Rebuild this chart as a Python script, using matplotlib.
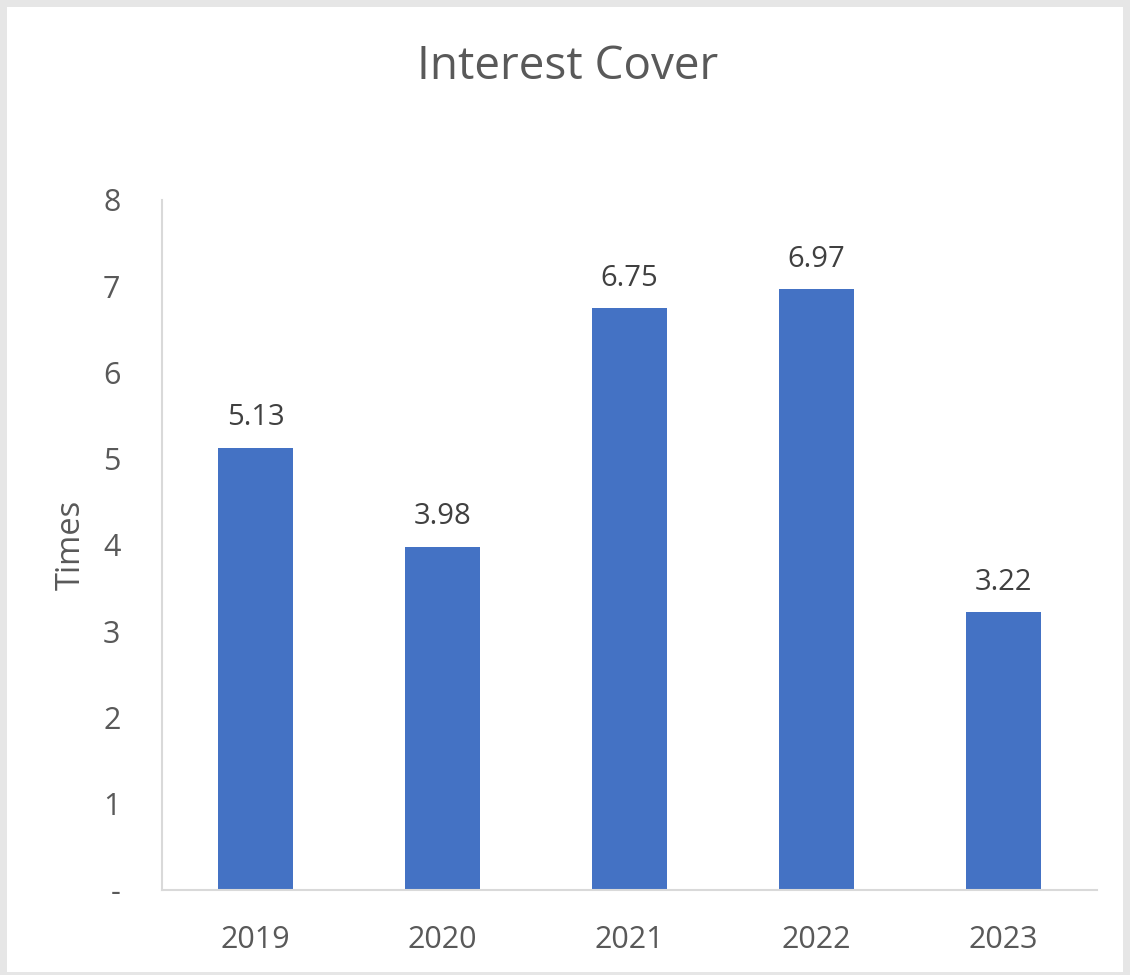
import matplotlib.pyplot as plt
from matplotlib.patches import Rectangle

years = ['2019', '2020', '2021', '2022', '2023']
cover = [5.13, 3.98, 6.75, 6.97, 3.22]
yticks = [0, 1, 2, 3, 4, 5, 6, 7, 8]
ytick_labels = ['-', '1', '2', '3', '4', '5', '6', '7', '8']

plt.rcParams['font.family'] = ['Open Sans', 'DejaVu Sans']
grey = '#595959'

fig = plt.figure(figsize=(11.3, 9.75), dpi=100)
# light grey frame around the chart area
fig.patches.append(Rectangle((0, 0), 1, 1, transform=fig.transFigure,
                             facecolor='#e6e6e6', edgecolor='none', zorder=-2))
fig.patches.append(Rectangle((7 / 1130, 3 / 975), 1116 / 1130, 965 / 975,
                             transform=fig.transFigure, facecolor='white',
                             edgecolor='none', zorder=-1))

ax = fig.add_axes([0.1434, 0.0872, 0.8274, 0.7077])
ax.set_facecolor('none')
x = range(len(years))
bars = ax.bar(x, cover, width=0.40, color='#4472C4', zorder=2)

for xi, v in zip(x, cover):
    ax.annotate(f'{v:.2f}', (xi, v), xytext=(0, 11), textcoords='offset points',
                ha='center', va='bottom', fontsize=21, color='#404040')

ax.set_xlim(-0.5, len(years) - 0.5)
ax.set_ylim(0, 8)
ax.set_xticks(list(x))
ax.set_xticklabels(years)
ax.set_yticks(yticks)
ax.set_yticklabels(ytick_labels)
ax.tick_params(axis='both', length=0, labelsize=22, colors=grey)
ax.tick_params(axis='x', pad=25)
ax.tick_params(axis='y', pad=30)

for side in ['top', 'right']:
    ax.spines[side].set_visible(False)
for side in ['left', 'bottom']:
    ax.spines[side].set_color('#d9d9d9')
    ax.spines[side].set_linewidth(1.5)

ax.set_ylabel('Times', fontsize=23.5, color=grey, labelpad=11)
fig.text(0.502, 0.931, 'Interest Cover', ha='center', va='center',
         fontsize=33, color=grey)

plt.savefig('out.png', dpi=100)
